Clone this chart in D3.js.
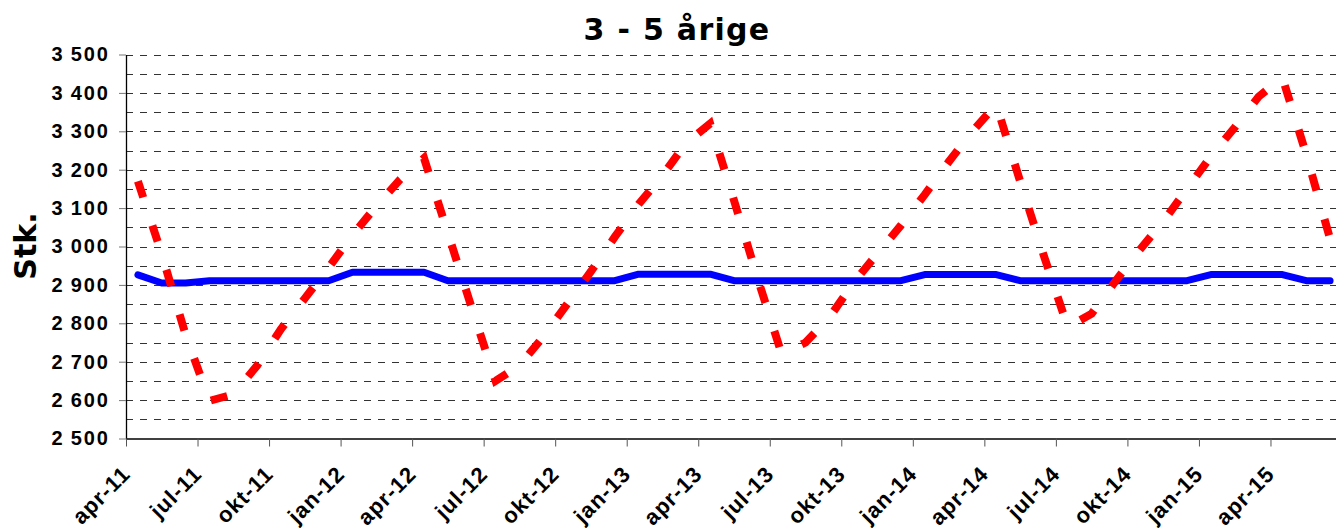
<!DOCTYPE html>
<html>
<head>
<meta charset="utf-8">
<script src="https://cdn.jsdelivr.net/npm/d3@7"></script>
<style>
    body { margin: 0; background: #fff; }
    .axis text { font-family: "Liberation Sans", Arial, sans-serif; font-weight: bold; fill: #000; }
    .y-axis text { font-size: 20px; letter-spacing: 2px; }
    .x-axis text { font-size: 22px; letter-spacing: 1px; }
    .axis path { stroke: #000; stroke-width: 1.3; }
    .y-axis .tick line { stroke: #777; }
    .x-axis .tick line { stroke: #555; }
    .grid line { stroke: #333; stroke-dasharray: 7,7; }
</style>
</head>
<body>
<div id="chart"></div>
<script>
    // Etiketter på x-aksen (hver 3. måned)
    const tickLabels = ["apr-11", "jul-11", "okt-11", "jan-12", "apr-12", "jul-12", "okt-12", "jan-13", "apr-13",
        "jul-13", "okt-13", "jan-14", "apr-14", "jul-14", "okt-14", "jan-15", "apr-15"];

    // Månedlige værdier apr-11 .. jun-15
    const bestand = [2926, 2905, 2905, 2911, 2911, 2911, 2911, 2911, 2911, 2933, 2933, 2933, 2933,
        2911, 2911, 2911, 2911, 2911, 2911, 2911, 2911, 2928, 2928, 2928, 2928,
        2911, 2911, 2911, 2911, 2911, 2911, 2911, 2911, 2927, 2927, 2927, 2927,
        2911, 2911, 2911, 2911, 2911, 2911, 2911, 2911, 2927, 2927, 2927, 2927, 2911, 2911];

    const prognose = [3170, 2980, 2770, 2598, 2615, 2690, 2785, 2865, 2945, 3030, 3105, 3175, 3230,
        3035, 2840, 2650, 2690, 2765, 2850, 2935, 3025, 3110, 3185, 3270, 3320,
        3120, 2915, 2720, 2750, 2815, 2905, 2980, 3055, 3135, 3220, 3300, 3370,
        3170, 2975, 2790, 2825, 2910, 2990, 3065, 3150, 3235, 3310, 3390, 3440, 3240, 3020];

    const yMin = 2500, yMax = 3500;

    const width = 1336, height = 528;
    const plot = { left: 126, right: 1342, top: 54.5, bottom: 438.5 };

    const svg = d3.select("#chart").append("svg")
        .attr("width", width)
        .attr("height", height);

    const x = d3.scaleLinear()
        .domain([0, prognose.length])
        .range([plot.left, plot.right]);

    const y = d3.scaleLinear()
        .domain([yMin, yMax])
        .range([plot.bottom, plot.top]);

    // Gitterlinjer hver 50
    svg.append("g")
        .attr("class", "grid")
        .selectAll("line")
        .data(d3.range(yMin + 50, yMax + 1, 50))
        .enter().append("line")
        .attr("x1", plot.left)
        .attr("x2", plot.right)
        .attr("y1", d => Math.round(y(d)) + 0.5)
        .attr("y2", d => Math.round(y(d)) + 0.5);

    // Akser
    const fmt = d3.formatLocale({ decimal: ",", thousands: "\u2009", grouping: [3], currency: ["", ""] }).format(",");

    svg.append("g")
        .attr("class", "axis y-axis")
        .attr("transform", `translate(${plot.left},0)`)
        .call(d3.axisLeft(y)
            .tickValues(d3.range(yMin, yMax + 1, 100))
            .tickSize(7)
            .tickSizeOuter(0)
            .tickPadding(9)
            .tickFormat(fmt));

    const xAxis = svg.append("g")
        .attr("class", "axis x-axis")
        .attr("transform", `translate(0,${plot.bottom})`)
        .call(d3.axisBottom(x)
            .tickValues(d3.range(0, tickLabels.length * 3, 3))
            .tickSize(8)
            .tickSizeOuter(0)
            .tickFormat((d, i) => tickLabels[i]));

    xAxis.selectAll("text")
        .attr("x", 0)
        .attr("y", 0)
        .attr("dy", 0)
        .attr("text-anchor", "end")
        .attr("transform", "translate(5,37) rotate(-45)");

    // Linjer
    const line = d3.line()
        .x((d, i) => x(i + 0.5))
        .y(d => y(d));

    svg.append("path")
        .datum(bestand)
        .attr("fill", "none")
        .attr("stroke", "#0000ff")
        .attr("stroke-width", 7)
        .attr("stroke-linejoin", "round")
        .attr("stroke-linecap", "round")
        .attr("d", line);

    svg.append("path")
        .datum(prognose)
        .attr("fill", "none")
        .attr("stroke", "#ff0000")
        .attr("stroke-width", 8)
        .attr("stroke-dasharray", "17,29.5")
        .attr("d", line);

    // Titler
    svg.append("text")
        .attr("x", 677)
        .attr("y", 40)
        .attr("text-anchor", "middle")
        .style("font-family", "'DejaVu Sans', sans-serif")
        .style("font-weight", "bold")
        .style("font-size", "30px")
        .style("letter-spacing", "1.3px")
        .text("3 - 5 årige");

    svg.append("text")
        .attr("transform", "translate(36,246) rotate(-90)")
        .attr("text-anchor", "middle")
        .style("font-family", "'DejaVu Sans', sans-serif")
        .style("font-weight", "bold")
        .style("font-size", "30px")
        .text("Stk.");
</script>
</body>
</html>
